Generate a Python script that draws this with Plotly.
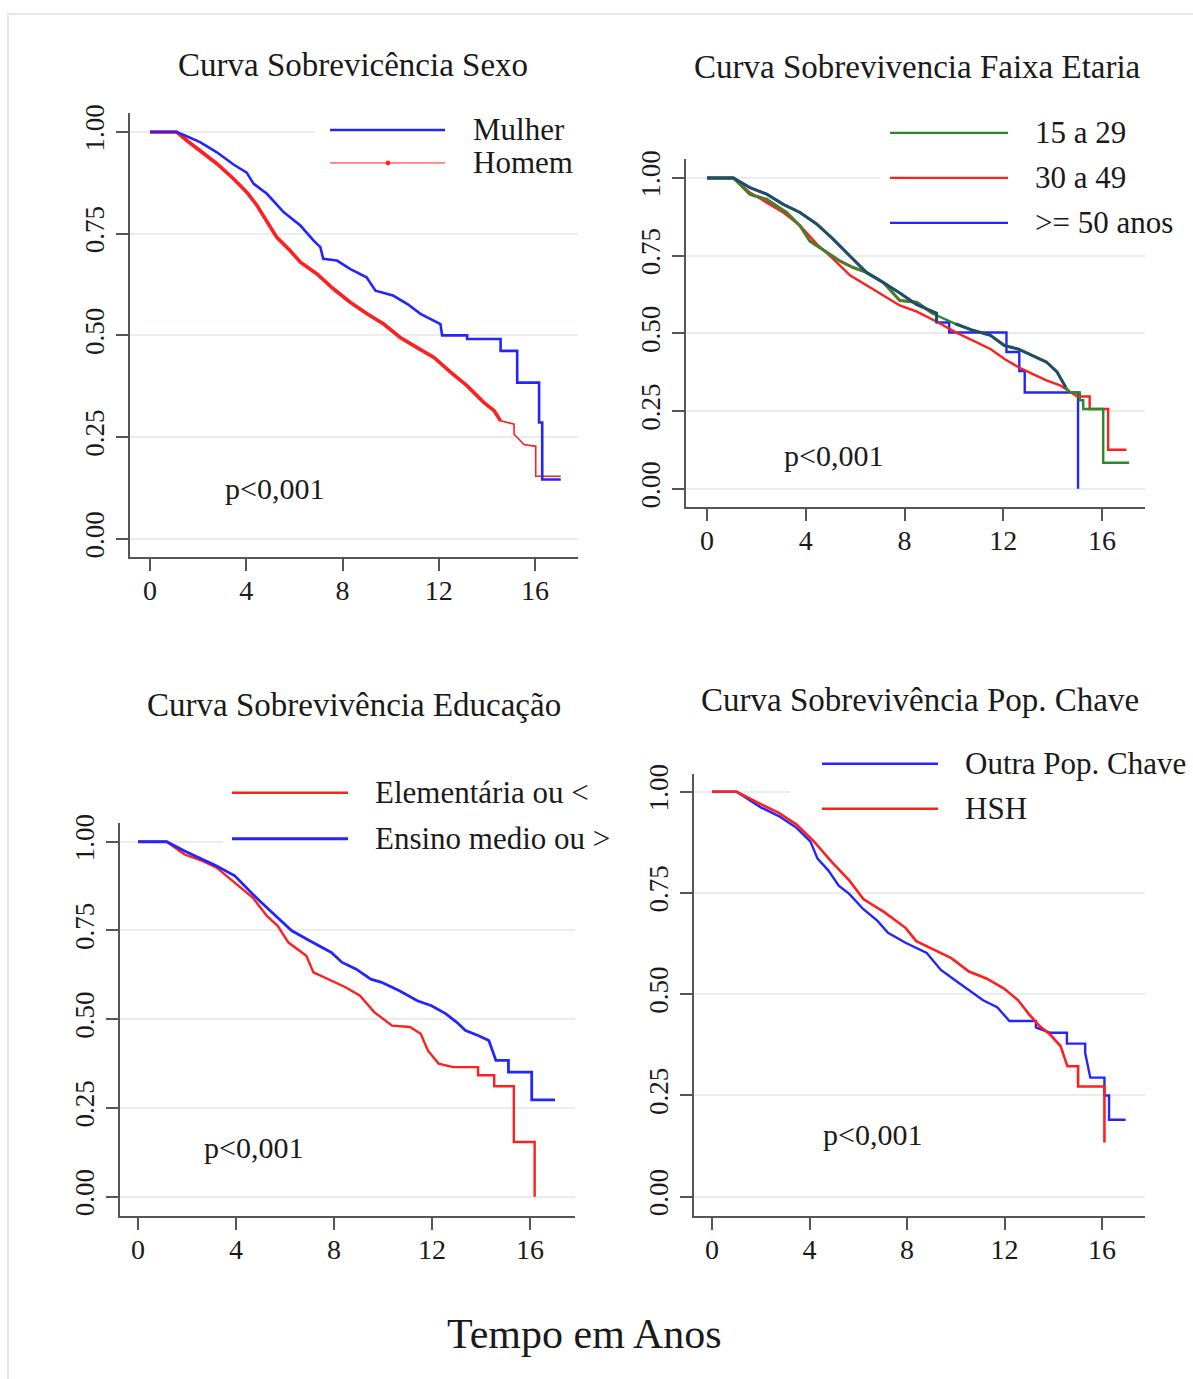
import plotly.graph_objects as go

W, H = 1193, 1379
FONT = "Liberation Serif"

# ---------------- data ----------------
# Panel 1: Sexo
sexo_mulher_t = [0, 1.1, 1.5, 2.08, 2.78, 3.47, 4.02, 4.3, 4.86, 5.55, 6.25, 6.8, 7.08, 7.2, 7.77, 8.33, 9.0, 9.37,
                 10.1, 10.7, 11.24, 11.8, 12.07, 12.14, 13.18, 13.18, 14.57, 14.57, 15.26, 15.26, 16.17, 16.17,
                 16.3, 16.3, 17.07]
sexo_mulher_s = [1, 1, 0.99, 0.975, 0.95, 0.92, 0.90, 0.873, 0.848, 0.803, 0.77, 0.733, 0.717, 0.688, 0.684, 0.663,
                 0.643, 0.61, 0.598, 0.577, 0.553, 0.536, 0.528, 0.50, 0.50, 0.491, 0.491, 0.462, 0.462, 0.384,
                 0.384, 0.286, 0.286, 0.146, 0.146]
sexo_homem_t = [0, 1.1, 1.53, 2.08, 2.78, 3.47, 4.02, 4.44, 4.86, 5.27, 5.83, 6.25, 6.94, 7.63, 8.33, 9.02, 9.71,
                10.4, 11.1, 11.8, 12.5, 13.18, 13.88, 14.3, 14.57, 15.13, 15.13, 15.54, 15.96, 16.03, 16.03, 17.07]
sexo_homem_s = [1, 1, 0.979, 0.955, 0.922, 0.885, 0.852, 0.82, 0.778, 0.741, 0.708, 0.68, 0.651, 0.614, 0.581,
                0.553, 0.528, 0.495, 0.47, 0.446, 0.409, 0.376, 0.335, 0.315, 0.29, 0.282, 0.257, 0.232, 0.228,
                0.228, 0.154, 0.154]

# Panel 2: Faixa Etaria
idade_15_29_t = [0, 1.07, 1.74, 2.42, 3.22, 3.77, 4.17, 4.84, 5.38, 5.92, 6.46, 7.14, 7.81, 8.5, 9.16, 10.06,
                 10.77, 11.48, 12.05, 12.6, 13.18, 13.75, 14.18, 14.53, 14.7, 15.1, 15.1, 15.24, 15.24, 16.05,
                 16.05, 17.1]
idade_15_29_s = [1, 1, 0.947, 0.931, 0.889, 0.846, 0.797, 0.76, 0.733, 0.712, 0.696, 0.664, 0.606, 0.60, 0.563,
                 0.531, 0.51, 0.494, 0.461, 0.45, 0.429, 0.408, 0.376, 0.327, 0.31, 0.31, 0.285, 0.285, 0.257,
                 0.257, 0.084, 0.084]
idade_30_49_t = [0, 1.07, 1.74, 2.42, 3.09, 3.77, 4.44, 5.11, 5.79, 6.46, 7.14, 7.81, 8.5, 9.35, 10.06, 10.77,
                 11.48, 12.05, 12.6, 13.18, 13.75, 14.3, 14.74, 15.0, 15.5, 15.5, 16.25, 16.25, 16.99]
idade_30_49_s = [1, 1, 0.953, 0.92, 0.889, 0.847, 0.788, 0.74, 0.687, 0.655, 0.623, 0.59, 0.57, 0.536, 0.504,
                 0.477, 0.45, 0.418, 0.392, 0.37, 0.349, 0.333, 0.311, 0.297, 0.297, 0.257, 0.257, 0.126, 0.126]
idade_50_t = [0, 1.07, 1.74, 2.42, 3.09, 3.77, 4.44, 5.11, 5.79, 6.46, 7.14, 7.81, 8.48, 9.3, 9.3, 9.81, 9.81,
              12.13, 12.13, 12.65, 12.65, 12.87, 12.87, 15.03, 15.03]
idade_50_s = [1, 1, 0.969, 0.948, 0.915, 0.889, 0.852, 0.803, 0.749, 0.696, 0.664, 0.63, 0.593, 0.565, 0.535,
              0.535, 0.503, 0.503, 0.44, 0.44, 0.379, 0.379, 0.31, 0.31, 0.0]

# Panel 3: Educação
edu_elem_t = [0, 1.17, 1.9, 2.63, 3.21, 3.95, 4.68, 5.26, 5.7, 6.14, 6.87, 7.16, 7.89, 8.47, 9.06, 9.64, 10.37,
              11.1, 11.54, 11.83, 12.27, 12.86, 13.88, 13.88, 14.54, 14.54, 15.34, 15.34, 16.19, 16.19]
edu_elem_s = [1, 1, 0.964, 0.946, 0.927, 0.885, 0.843, 0.791, 0.763, 0.716, 0.679, 0.632, 0.609, 0.59, 0.566,
              0.52, 0.482, 0.478, 0.459, 0.412, 0.375, 0.365, 0.365, 0.342, 0.342, 0.311, 0.311, 0.154, 0.154, 0.0]
edu_medio_t = [0, 1.17, 1.9, 2.63, 3.21, 3.95, 4.82, 5.55, 6.28, 7.01, 7.89, 8.33, 8.91, 9.5, 9.94, 10.67, 11.4,
               11.98, 12.57, 13.0, 13.37, 13.88, 14.32, 14.61, 15.12, 15.12, 16.07, 16.07, 17.02]
edu_medio_s = [1, 1, 0.974, 0.95, 0.932, 0.904, 0.843, 0.796, 0.749, 0.721, 0.688, 0.66, 0.641, 0.613, 0.604,
               0.58, 0.552, 0.538, 0.515, 0.492, 0.468, 0.454, 0.44, 0.384, 0.384, 0.351, 0.351, 0.273, 0.273]

# Panel 4: Pop. Chave
pop_outra_t = [0, 1.01, 2.02, 2.74, 3.47, 4.04, 4.33, 4.77, 5.2, 5.63, 6.21, 6.79, 7.22, 7.94, 8.81, 9.39, 9.96,
               10.54, 11.12, 11.7, 12.2, 13.29, 13.29, 13.86, 14.56, 14.56, 15.31, 15.31, 15.52, 16.1, 16.1,
               16.29, 16.29, 16.97]
pop_outra_s = [1, 1, 0.961, 0.94, 0.911, 0.877, 0.835, 0.806, 0.768, 0.748, 0.71, 0.681, 0.652, 0.627, 0.602,
               0.56, 0.535, 0.51, 0.485, 0.468, 0.434, 0.434, 0.418, 0.405, 0.405, 0.378, 0.378, 0.355, 0.294,
               0.294, 0.25, 0.25, 0.19, 0.19]
pop_hsh_t = [0, 1.01, 2.02, 2.74, 3.47, 4.19, 4.91, 5.63, 6.21, 7.08, 7.94, 8.38, 9.1, 9.82, 10.54, 11.26, 11.98,
             12.56, 13.0, 13.43, 13.86, 14.3, 14.58, 15.02, 15.02, 16.1, 16.1]
pop_hsh_s = [1, 1, 0.969, 0.948, 0.919, 0.877, 0.827, 0.781, 0.735, 0.702, 0.664, 0.631, 0.61, 0.589, 0.556,
             0.539, 0.514, 0.485, 0.451, 0.422, 0.401, 0.372, 0.322, 0.322, 0.272, 0.272, 0.134]

x_ticks = [0, 4, 8, 12, 16]
y_ticks = [0, 0.25, 0.5, 0.75, 1.0]
y_ticktext = ["0.00", "0.25", "0.50", "0.75", "1.00"]

titles = ["Curva Sobrevicência Sexo", "Curva Sobrevivencia Faixa Etaria",
          "Curva Sobrevivência Educação", "Curva Sobrevivência Pop. Chave"]
p_text = "p<0,001"
x_title = "Tempo em Anos"

BLUE = "#2424ff"
RED = "#ff1f1f"
GREEN = "#2a8a2a"
OLIVE = "#4c7d2c"
TEAL = "#204e66"

# ---------------- layout geometry (pixels) ----------------
geom = [
    dict(l=130, r=578, t=112, b=556, x0=150, x16=535, y1=131, y0=538),
    dict(l=686, r=1145, t=158, b=506, x0=707, x16=1102, y1=177, y0=488),
    dict(l=120, r=575, t=822, b=1215, x0=138, x16=530, y1=841, y0=1196),
    dict(l=694, r=1145, t=773, b=1215, x0=712, x16=1102, y1=791, y0=1196),
]
title_pos = [(353, 64), (917, 66), (354, 704), (920, 699)]
p_pos = [(274, 488), (833, 455), (253, 1147), (872, 1134)]


def Y(py):
    # compensation for the vertical placement observed in the rendered page
    return (py - 9) / 0.9923


def fx(px):
    return px / W


def fy(py):
    return 1 - Y(py) / H


fig = go.Figure()
layout = dict(width=W, height=H, margin=dict(l=0, r=0, t=0, b=0),
              paper_bgcolor="white", plot_bgcolor="white", showlegend=False,
              font=dict(family=FONT, color="#1a1a1a"))

for i, g in enumerate(geom):
    n = "" if i == 0 else str(i + 1)
    ppx = (g["x16"] - g["x0"]) / 16.0
    gt, gb, gy1, gy0 = Y(g["t"]), Y(g["b"]), Y(g["y1"]), Y(g["y0"])
    ppy = (gy0 - gy1)
    xr = [(g["l"] - g["x0"]) / ppx, (g["r"] - g["x0"]) / ppx]
    yr = [-(gb - gy0) / ppy, 1 + (gy1 - gt) / ppy]
    layout["xaxis" + n] = dict(
        domain=[fx(g["l"]), fx(g["r"])], range=xr, anchor="y" + n,
        tickvals=x_ticks, ticks="outside", ticklen=12, tickwidth=2, tickcolor="#555",
        showline=True, linecolor="#555", linewidth=2, showgrid=False, zeroline=False,
        tickfont=dict(family=FONT, size=28, color="#1a1a1a"), ticklabelstandoff=-4,
    )
    layout["yaxis" + n] = dict(
        domain=[1 - gb / H, 1 - gt / H], range=yr, anchor="x" + n,
        tickvals=y_ticks, ticktext=y_ticktext, tickangle=-90,
        ticks="outside", ticklen=12, tickwidth=2, tickcolor="#555",
        showline=True, linecolor="#555", linewidth=2, showgrid=True,
        gridcolor="#e8eeee", gridwidth=2, zeroline=False,
        tickfont=dict(family=FONT, size=27, color="#1a1a1a"), ticklabelstandoff=1,
    )


def add(i, t, s, color, width, upto=None, start=None):
    n = "" if i == 0 else str(i + 1)
    pts = [(a, b) for a, b in zip(t, s)
           if (upto is None or a <= upto) and (start is None or a >= start)]
    fig.add_trace(go.Scatter(x=[p[0] for p in pts], y=[p[1] for p in pts], mode="lines",
                             line=dict(color=color, width=width), hoverinfo="skip",
                             xaxis="x" + n, yaxis="y" + n))


# Panel 1
add(0, sexo_homem_t, sexo_homem_s, RED, 1.6)
add(0, sexo_homem_t, sexo_homem_s, RED, 3.6, upto=14.6)
add(0, sexo_mulher_t, sexo_mulher_s, BLUE, 2.6)
# Panel 2
add(1, idade_50_t, idade_50_s, BLUE, 2.4)
add(1, idade_30_49_t, idade_30_49_s, RED, 2.4)
add(1, idade_15_29_t, idade_15_29_s, GREEN, 2.4)
add(1, idade_15_29_t, idade_15_29_s, OLIVE, 3.0, upto=9.9)
add(1, idade_50_t, idade_50_s, TEAL, 3.0, upto=9.3)
add(1, idade_15_29_t, idade_15_29_s, TEAL, 3.0, upto=14.6, start=9.9)
# Panel 3
add(2, edu_elem_t, edu_elem_s, RED, 2.4)
add(2, edu_medio_t, edu_medio_s, BLUE, 2.8)
# Panel 4
add(3, pop_outra_t, pop_outra_s, BLUE, 2.4)
add(3, pop_hsh_t, pop_hsh_s, RED, 2.6)

shapes = []
annotations = []

# outer frame
shapes.append(dict(type="rect", xref="paper", yref="paper", x0=fx(8), x1=1.02, y0=-0.02, y1=fy(13),
                   line=dict(color="#e4e8e8", width=2), fillcolor="rgba(0,0,0,0)", layer="below"))

legends = [
    dict(box=(315, 600, 108, 180), x0=330, x1=445, tx=471,
         items=[("Mulher", BLUE, 2.6, 129), ("Homem", RED, 1.0, 162)]),
    dict(box=(880, 1190, 110, 242), x0=890, x1=1008, tx=1033,
         items=[("15 a 29", GREEN, 2.2, 132), ("30 a 49", RED, 2.2, 177), (">= 50 anos", BLUE, 2.2, 222)]),
    dict(box=(223, 615, 768, 850), x0=232, x1=348, tx=373,
         items=[("Elementária ou <", RED, 2.4, 792), ("Ensino medio ou >", BLUE, 3.0, 838)]),
    dict(box=(790, 1192, 742, 798), x0=822, x1=938, tx=963,
         items=[("Outra Pop. Chave", BLUE, 2.4, 763), ("HSH", RED, 2.6, 808)]),
]
for lg in legends:
    bx0, bx1, by0, by1 = lg["box"]
    shapes.append(dict(type="rect", xref="paper", yref="paper", x0=fx(bx0), x1=fx(bx1),
                       y0=fy(by1), y1=fy(by0), line=dict(width=0), fillcolor="white", layer="above"))
    for label, color, width, py in lg["items"]:
        shapes.append(dict(type="line", xref="paper", yref="paper", x0=fx(lg["x0"]), x1=fx(lg["x1"]),
                           y0=fy(py), y1=fy(py), line=dict(color=color, width=width), layer="above"))
        annotations.append(dict(text=label, xref="paper", yref="paper", x=fx(lg["tx"]), y=fy(py),
                                xanchor="left", yanchor="middle", showarrow=False,
                                font=dict(family=FONT, size=31, color="#1a1a1a")))
shapes.append(dict(type="circle", xref="paper", yref="paper", x0=fx(386), x1=fx(390), y0=fy(164), y1=fy(160),
                   line=dict(color=RED, width=1), fillcolor=RED, layer="above"))

for (tx, ty), title in zip(title_pos, titles):
    annotations.append(dict(text=title, xref="paper", yref="paper", x=fx(tx), y=fy(ty),
                            xanchor="center", yanchor="middle", showarrow=False,
                            font=dict(family=FONT, size=33, color="#1a1a1a")))
for (tx, ty) in p_pos:
    annotations.append(dict(text=p_text, xref="paper", yref="paper", x=fx(tx), y=fy(ty),
                            xanchor="center", yanchor="middle", showarrow=False,
                            font=dict(family=FONT, size=30, color="#1a1a1a")))
annotations.append(dict(text=x_title, xref="paper", yref="paper", x=fx(584), y=fy(1333),
                        xanchor="center", yanchor="middle", showarrow=False,
                        font=dict(family=FONT, size=42, color="#1a1a1a")))

layout["shapes"] = shapes
layout["annotations"] = annotations
fig.update_layout(**layout)
fig.write_html("out.html", config={"displayModeBar": False},
               post_script="document.body.style.margin='0';document.body.style.padding='0';"
                           "document.body.style.overflow='hidden';"
                           "document.documentElement.style.overflow='hidden';")
